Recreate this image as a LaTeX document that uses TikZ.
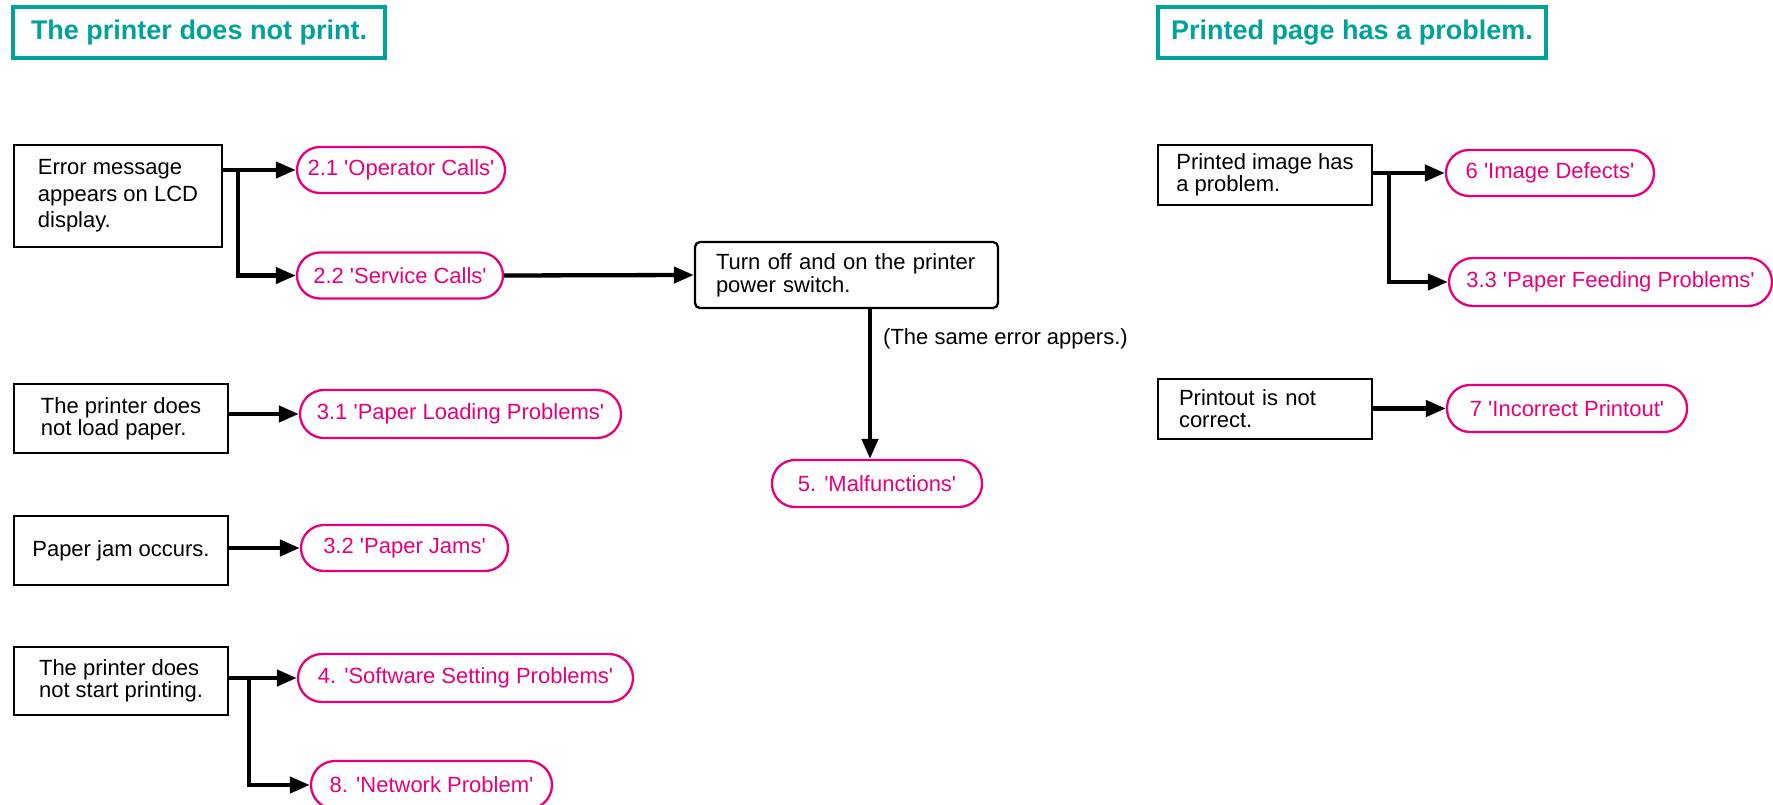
\documentclass[tikz,border=0pt]{standalone}
\usepackage{fontspec}
\setmainfont{Liberation Sans}[Ligatures=TeXOff]
\usepackage{tikz}
\usetikzlibrary{calc}
\usetikzlibrary{arrows.meta}
\usetikzlibrary{positioning}
\usepackage{xcolor}

\definecolor{headteal}{RGB}{0,162,154}
\definecolor{refpink}{RGB}{230,0,126}

\tikzset{
    heading/.style={draw=headteal, line width=3.5pt, text=headteal, font=\bfseries\fontsize{27}{30}\selectfont, minimum height=51pt, inner sep=0pt},
    cause/.style={draw, line width=2.3pt, align=left, font=\fontsize{22}{22}\selectfont, inner xsep=21pt, inner ysep=0pt},
    chapter/.style={draw=refpink, line width=2.3pt, rounded corners=23pt, text=refpink, font=\fontsize{22}{22}\selectfont, minimum height=46pt, inner sep=0pt},
    flow/.style={-{Triangle[length=20pt,width=16pt]}, line width=4.3pt},
}

\begin{document}
\begin{tikzpicture}[x=1pt, y=-1pt]
    \useasboundingbox (0,0) rectangle (1773,805);

    % 1. Headings of the two columns
    \node[heading, minimum width=372pt] (hdprint) at (199,32.5) {The printer does not print.};
    \node[heading, minimum width=388pt] (hdpage) at (1352,32.5) {Printed page has a problem.};

    % 2. Symptom boxes
    \node[cause, minimum width=208pt, minimum height=102pt, font=\fontsize{22}{26.7}\selectfont] (err) at (118,196) {Error message\\appears on LCD\\display.};
    \node[cause, minimum width=214pt, minimum height=69pt] (noload) at (121,418.5) {The printer does\\not load paper.};
    \node[cause, minimum width=214pt, minimum height=69pt, inner xsep=15pt] (jam) at (121,550.5) {Paper jam occurs.};
    \node[cause, minimum width=214pt, minimum height=68pt] (nostart) at (121,681) {The printer does\\not start printing.};
    \node[cause, minimum width=303pt, minimum height=66pt, text width=261pt, rounded corners=5pt, font=\fontsize{22}{23.3}\selectfont] (power) at (846.5,275) {Turn off and on the printer\\power switch.};
    \node[cause, minimum width=214pt, minimum height=60pt, inner xsep=14pt] (image) at (1265,175) {Printed image has\\a problem.};
    \node[cause, minimum width=214pt, minimum height=60pt, text width=172pt] (printout) at (1265,409) {Printout is not\\correct.};

    % 3. Chapters to look up
    \node[chapter, minimum width=208pt] (opcall) at (401,170) {2.1 'Operator Calls'};
    \node[chapter, minimum width=206pt] (svcall) at (400,275.5) {2.2 'Service Calls'};
    \node[chapter, minimum width=321pt, minimum height=48pt, rounded corners=24pt] (loadprob) at (460.5,414) {3.1 'Paper Loading Problems'};
    \node[chapter, minimum width=207pt] (jamprob) at (404.5,548) {3.2 'Paper Jams'};
    \node[chapter, minimum width=335pt, minimum height=48pt, rounded corners=24pt] (softprob) at (465.5,678) {4. 'Software Setting Problems'};
    \node[chapter, minimum width=241pt, minimum height=48pt, rounded corners=24pt] (netprob) at (431.5,785) {8. 'Network Problem'};
    \node[chapter, minimum width=210pt, minimum height=47pt] (malf) at (877,483.5) {5. 'Malfunctions'};
    \node[chapter, minimum width=208pt] (imgdef) at (1550,173) {6 'Image Defects'};
    \node[chapter, minimum width=323pt, minimum height=48pt, rounded corners=24pt] (feedprob) at (1610.5,282) {3.3 'Paper Feeding Problems'};
    \node[chapter, minimum width=240pt, minimum height=47pt] (incorr) at (1567,408.5) {7 'Incorrect Printout'};

    % 4. Arrows of the left column
    \draw[flow] (err.east |- opcall.west) -- (opcall.west);
    \draw[flow] ($(err.east |- opcall.west)+(15,0)$) |- (svcall.west);
    \draw[flow] (svcall.east) -- (power.west);
    \draw[flow] ([xshift=23.5pt]power.south) -- ([xshift=23.5pt]power.south |- malf.north);
    \node[font=\fontsize{22}{22}\selectfont, anchor=west, inner sep=0pt] (sameerr) at (883,339) {(The same error appers.)};
    \draw[flow] (noload.east |- loadprob.west) -- (loadprob.west);
    \draw[flow] (jam.east |- jamprob.west) -- (jamprob.west);
    \draw[flow] (nostart.east |- softprob.west) -- (softprob.west);
    \draw[flow] ($(nostart.east |- softprob.west)+(20,0)$) |- (netprob.west);

    % 5. Arrows of the right column
    \draw[flow] (image.east |- imgdef.west) -- (imgdef.west);
    \draw[flow] ($(image.east |- imgdef.west)+(16,0)$) |- (feedprob.west);
    \draw[flow] (printout.east |- incorr.west) -- (incorr.west);
\end{tikzpicture}
\end{document}
